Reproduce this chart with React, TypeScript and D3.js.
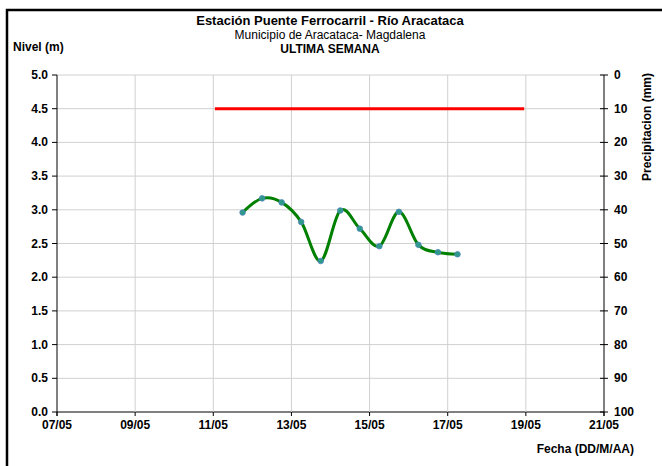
import React from "react";
import * as d3 from "d3";

const dates = [
  "2023-05-11T18:00", "2023-05-12T06:00", "2023-05-12T18:00", "2023-05-13T06:00",
  "2023-05-13T18:00", "2023-05-14T06:00", "2023-05-14T18:00", "2023-05-15T06:00",
  "2023-05-15T18:00", "2023-05-16T06:00", "2023-05-16T18:00", "2023-05-17T06:00",
];
const nivel = [2.96, 3.17, 3.11, 2.82, 2.24, 2.99, 2.72, 2.46, 2.97, 2.48, 2.37, 2.34];
const alertaFechas = ["2023-05-11T01:00", "2023-05-18T23:00"];
const alertaNivel = [4.5, 4.5];
const xTicks = ["2023-05-07", "2023-05-09", "2023-05-11", "2023-05-13", "2023-05-15", "2023-05-17", "2023-05-19", "2023-05-21"];
const yTicks = [0, 0.5, 1, 1.5, 2, 2.5, 3, 3.5, 4, 4.5, 5];
const precipTicks = [0, 10, 20, 30, 40, 50, 60, 70, 80, 90, 100];

const parse = (s: string) => {
  const [d, t] = s.split("T");
  const [Y, M, D] = d.split("-").map(Number);
  const [h, m] = (t || "00:00").split(":").map(Number);
  return new Date(Y, M - 1, D, h, m);
};

export default function App() {
  const W = 662, H = 466;
  const left = 57, right = 604, top = 75, bottom = 412;
  const x = d3.scaleTime().domain([parse(xTicks[0]), parse(xTicks[xTicks.length - 1])]).range([left, right]);
  const y = d3.scaleLinear().domain([0, 5]).range([bottom, top]);
  const yr = d3.scaleLinear().domain([0, 100]).range([top, bottom]);
  const fmt = d3.timeFormat("%d/%m");
  const pts: [number, number][] = dates.map((d, i) => [x(parse(d)), y(nivel[i])]);
  const line = d3.line().curve(d3.curveCardinal.tension(0))(pts) || "";
  const alert = d3.line()(alertaFechas.map((d, i) => [x(parse(d)), y(alertaNivel[i])] as [number, number])) || "";
  const font = "'Liberation Sans', Arial, sans-serif";

  return (
    <svg width={W} height={H} style={{ position: "absolute", left: 0, top: 0, fontFamily: font }}>
      <rect x={0} y={0} width={W} height={H} fill="#fff" />
      <rect x={7} y={10} width={W + 20} height={H + 20} fill="none" stroke="#000" strokeWidth={2.5} />
      <text x={330} y={25} textAnchor="middle" fontWeight="bold" fontSize={13}>Estación Puente Ferrocarril - Río Aracataca</text>
      <text x={330} y={39} textAnchor="middle" fontSize={12}>Municipio de Aracataca- Magdalena</text>
      <text x={330} y={53} textAnchor="middle" fontWeight="bold" fontSize={12}>ULTIMA SEMANA</text>
      <text x={13} y={51} fontWeight="bold" fontSize={12}>Nivel (m)</text>
      <text transform={`translate(651,127) rotate(-90)`} textAnchor="middle" fontWeight="bold" fontSize={12}>Precipitacion (mm)</text>
      <text x={634} y={453} textAnchor="end" fontWeight="bold" fontSize={12}>Fecha (DD/M/AA)</text>

      {yTicks.map((t) => (
        <line key={"gy" + t} x1={left} x2={right} y1={y(t)} y2={y(t)} stroke={t === 0 ? "#000" : "#d0d0d0"} strokeWidth={1} />
      ))}
      {xTicks.slice(1, -1).map((t) => (
        <line key={"gx" + t} x1={x(parse(t))} x2={x(parse(t))} y1={top} y2={bottom} stroke="#d0d0d0" strokeWidth={1} />
      ))}
      <line x1={left} x2={left} y1={top} y2={bottom + 4} stroke="#000" />
      <line x1={right} x2={right} y1={top} y2={bottom + 4} stroke="#000" />
      {yTicks.map((t) => (
        <g key={"ly" + t}>
          <line x1={left - 5} x2={left} y1={y(t)} y2={y(t)} stroke="#000" />
          <text x={48} y={y(t) + 4} textAnchor="end" fontWeight="bold" fontSize={12}>{t.toFixed(1)}</text>
        </g>
      ))}
      {precipTicks.map((t) => (
        <g key={"ry" + t}>
          <line x1={right - 4} x2={right + 4} y1={yr(t)} y2={yr(t)} stroke="#000" />
          <text x={614} y={yr(t) + 4} textAnchor="start" fontWeight="bold" fontSize={12}>{t}</text>
        </g>
      ))}
      {xTicks.map((t) => (
        <g key={"tx" + t}>
          <line x1={x(parse(t))} x2={x(parse(t))} y1={bottom} y2={bottom + 4} stroke="#000" />
          <text x={x(parse(t))} y={429} textAnchor="middle" fontWeight="bold" fontSize={12}>{fmt(parse(t))}</text>
        </g>
      ))}

      <path d={alert} stroke="#ff0000" strokeWidth={3} fill="none" />
      <path d={line} stroke="#008000" strokeWidth={3} fill="none" />
      {pts.map((p, i) => (
        <circle key={i} cx={p[0]} cy={p[1]} r={2.8} fill="#2e9a8a" stroke="#4f81bd" strokeWidth={0.8} />
      ))}
    </svg>
  );
}
